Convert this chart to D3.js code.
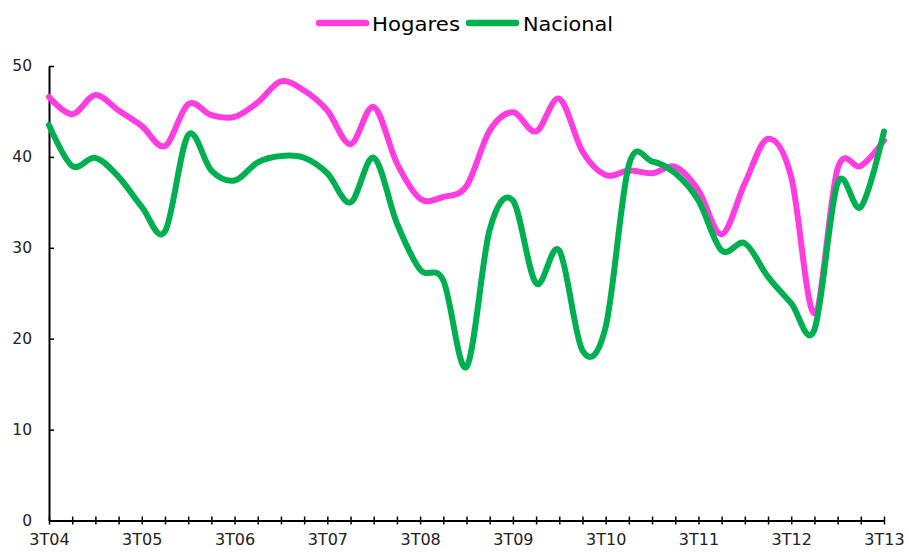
<!DOCTYPE html>
<html>
<head>
<meta charset="utf-8">
<script src="https://cdn.jsdelivr.net/npm/d3@7"></script>
<style>
  html, body { margin: 0; padding: 0; background: #fff; }
  svg { display: block; }
</style>
</head>
<body>
<svg id="chart" width="909" height="552"></svg>
<script>
const quarters = ["3T04","4T04","1T05","2T05","3T05","4T05","1T06","2T06","3T06","4T06","1T07","2T07","3T07","4T07","1T08","2T08","3T08","4T08","1T09","2T09","3T09","4T09","1T10","2T10","3T10","4T10","1T11","2T11","3T11","4T11","1T12","2T12","3T12","4T12","1T13","2T13","3T13"];
const hogares = [46.6, 44.7, 46.8, 45.1, 43.4, 41.2, 45.8, 44.6, 44.4, 46.0, 48.3, 47.3, 45.1, 41.4, 45.5, 39.3, 35.4, 35.6, 36.8, 42.9, 44.9, 42.8, 46.4, 40.6, 38.0, 38.5, 38.2, 38.9, 36.3, 31.5, 37.1, 42.0, 37.8, 22.8, 38.7, 39.0, 41.8];
const nacional = [43.5, 39.0, 39.9, 37.8, 34.5, 31.8, 42.4, 38.5, 37.4, 39.4, 40.1, 39.9, 38.2, 35.0, 39.9, 32.7, 27.6, 26.4, 16.9, 32.0, 35.2, 26.1, 29.7, 18.7, 21.3, 39.1, 39.5, 38.2, 35.2, 29.7, 30.5, 26.8, 23.9, 21.0, 37.1, 34.5, 42.8];
const yTicks = [0, 10, 20, 30, 40, 50];
const seriesNames = ["Hogares", "Nacional"];
const seriesColors = ["#ff3ce0", "#00b050"];

const svg = d3.select("#chart");
const x = d3.scaleLinear().domain([0, quarters.length - 1]).range([49, 884]);
const y = d3.scaleLinear().domain([0, 50]).range([520.5, 66]);

// Y axis
const yAxis = svg.append("g").attr("transform", "translate(49,0)")
  .call(d3.axisLeft(y).tickValues(yTicks).tickSizeInner(-5).tickSizeOuter(0).tickPadding(17));
yAxis.select(".domain").attr("stroke", "#000").attr("stroke-width", 2);
yAxis.selectAll(".tick line").attr("stroke", "#000").attr("stroke-width", 1.5);
yAxis.selectAll(".tick text").attr("font-family", "DejaVu Sans, Verdana, sans-serif")
  .attr("font-size", 15.5).attr("fill", "#222");

// X axis
const xAxis = svg.append("g").attr("transform", "translate(0," + y(0) + ")")
  .call(d3.axisBottom(x).tickValues(d3.range(quarters.length)).tickSizeInner(4).tickSizeOuter(0)
    .tickPadding(9).tickFormat(i => (i % 4 === 0 ? quarters[i] : "")));
xAxis.select(".domain").attr("stroke", "#000").attr("stroke-width", 2);
xAxis.selectAll(".tick line").attr("stroke", "#000").attr("stroke-width", 1.5).attr("y1", -4);
xAxis.selectAll(".tick text").attr("font-family", "DejaVu Sans, Verdana, sans-serif")
  .attr("font-size", 16).attr("fill", "#222");

// Lines
const line = d3.line().x((d, i) => x(i)).y(d => y(d)).curve(d3.curveCardinal.tension(0));
[hogares, nacional].forEach((s, k) => {
  svg.append("path").datum(s).attr("d", line).attr("fill", "none")
    .attr("stroke", seriesColors[k]).attr("stroke-width", 6)
    .attr("stroke-linejoin", "round").attr("stroke-linecap", "round");
});

// Legend
const legendItems = [
  { x1: 319, x2: 366, tx: 372, tw: 88 },
  { x1: 469, x2: 516, tx: 523, tw: 90 }
];
legendItems.forEach((it, k) => {
  svg.append("line").attr("x1", it.x1).attr("x2", it.x2).attr("y1", 23).attr("y2", 23)
    .attr("stroke", seriesColors[k]).attr("stroke-width", 6.5).attr("stroke-linecap", "round");
  svg.append("text").attr("x", it.tx).attr("y", 31)
    .attr("font-family", "DejaVu Sans, Verdana, sans-serif")
    .attr("font-size", 19).attr("fill", "#000")
    .attr("textLength", it.tw).attr("lengthAdjust", "spacingAndGlyphs")
    .text(seriesNames[k]);
});
</script>
</body>
</html>
